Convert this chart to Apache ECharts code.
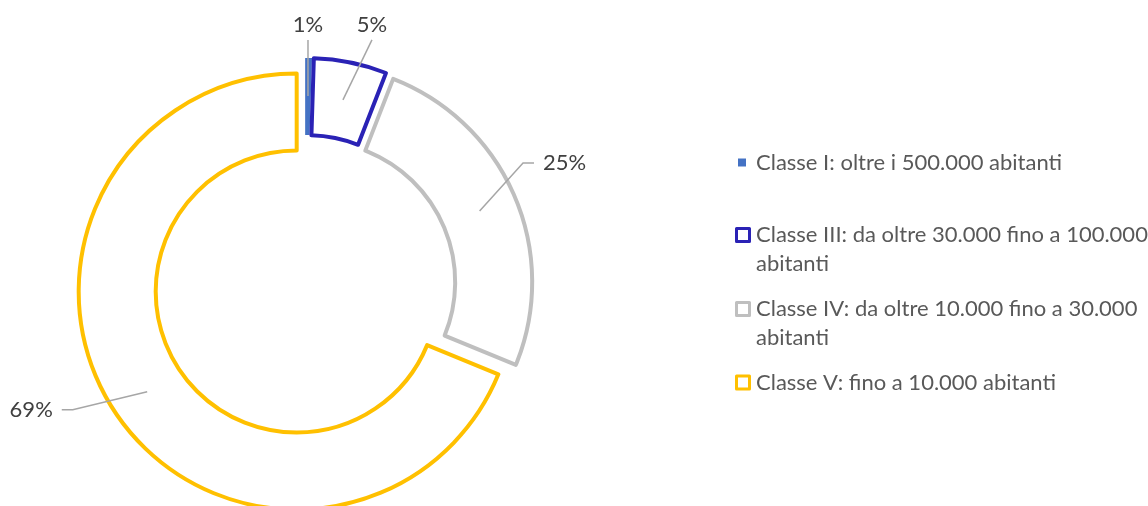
<!DOCTYPE html>
<html>
<head>
<meta charset="utf-8">
<script src="https://cdn.jsdelivr.net/npm/echarts@6/dist/echarts.min.js"></script>
<style>
  html, body { margin: 0; padding: 0; background: #fff; }
  #chart { width: 1148px; height: 506px; }
</style>
</head>
<body>
<div id="chart"></div>
<script>
const categories = [
    'Classe I: oltre i 500.000 abitanti',
    'Classe III: da oltre 30.000 fino a 100.000 abitanti',
    'Classe IV: da oltre 10.000 fino a 30.000 abitanti',
    'Classe V: fino a 10.000 abitanti'
];
const shares = [0.5, 5.4, 25.3, 68.8];

const FONT = 'Lato';
const CENTER = [305, 286];
const EXPLODE = 10;
const lineColors = ['#4472C4', '#2A22B5', '#BFBFBF', '#FFC000'];

function sliceStyle(i) {
    if (i === 0) return { color: lineColors[0], borderWidth: 0 };
    return { color: '#fff', borderColor: lineColors[i], borderWidth: 4 };
}

// where each percentage sits, relative to its leader line anchor
const labelShift = [[0, -71], [29, -75], [85, -48], [-116, 18]];
const labelSide = ['top', 'top', 'right', 'left'];

function wrapName(name) {
    if (name.length < 40) return name;
    const cut = name.lastIndexOf(' abitanti');
    // leading blank line keeps the icon level with the first text line
    return '\n' + name.slice(0, cut) + '\nabitanti';
}

function legendFor(i, top) {
    const small = i === 0;
    return {
        data: [categories[i]],
        left: small ? 738 : 735,
        top: top,
        padding: 0,
        selectedMode: false,
        icon: 'path://M0,0H10V10H0Z',
        itemWidth: small ? 18 : 16,
        itemHeight: small ? 8 : 13,
        itemStyle: { borderWidth: small ? 0 : 3 },
        formatter: wrapName,
        textStyle: { fontFamily: FONT, fontSize: 22, color: '#595959', lineHeight: 29 }
    };
}

const chart = echarts.init(document.getElementById('chart'));

chart.setOption({
    animation: false,
    legend: [
        legendFor(0, 148),
        legendFor(1, 191.5),
        legendFor(2, 265.5),
        legendFor(3, 368)
    ],
    series: [
        {
            type: 'pie',
            name: 'ring',
            center: CENTER,
            radius: [141, 218],
            startAngle: 90,
            selectedMode: 'multiple',
            selectedOffset: EXPLODE,
            silent: true,
            label: { show: false },
            labelLine: { show: false },
            emphasis: { disabled: true },
            z: 2,
            data: categories.map((name, i) => ({
                name, value: shares[i], selected: true,
                itemStyle: sliceStyle(i),
                select: { itemStyle: sliceStyle(i) }
            }))
        },
        {
            // invisible copy at mid-ring radius, only carries the labels
            type: 'pie',
            name: 'labels',
            center: CENTER,
            radius: [0, 180],
            startAngle: 90,
            silent: true,
            legendHoverLink: false,
            percentPrecision: 0,
            avoidLabelOverlap: false,
            itemStyle: { color: 'rgba(0,0,0,0)', borderWidth: 0 },
            emphasis: { disabled: true },
            label: {
                show: true,
                position: 'outside',
                formatter: '{d}%',
                fontFamily: FONT,
                fontSize: 22,
                color: '#404040'
            },
            labelLine: {
                show: true,
                length: 10,
                length2: 10,
                lineStyle: { color: '#A6A6A6', width: 1.5 }
            },
            labelLayout: function (p) {
                const i = p.dataIndex;
                const a = p.labelLinePoints[0];
                const dx = a[0] - CENTER[0], dy = a[1] - CENTER[1];
                const d = Math.hypot(dx, dy);
                const start = [a[0] + dx / d * EXPLODE, a[1] + dy / d * EXPLODE];
                const x = start[0] + labelShift[i][0];
                const y = start[1] + labelShift[i][1];
                const hw = p.labelRect.width / 2 + 9;
                const hh = p.labelRect.height / 2 + 4;
                let end, bend;
                if (labelSide[i] === 'top') {
                    end = [x, y + hh]; bend = end;
                } else if (labelSide[i] === 'right') {
                    end = [x - hw, y]; bend = [end[0] - 11, y];
                } else {
                    end = [x + hw, y]; bend = [end[0] + 11, y];
                }
                return {
                    x: x, y: y, align: 'center', verticalAlign: 'middle',
                    labelLinePoints: [start, bend, end]
                };
            },
            z: 3,
            data: categories.map((name, i) => ({ name, value: shares[i] }))
        }
    ]
});
</script>
</body>
</html>
